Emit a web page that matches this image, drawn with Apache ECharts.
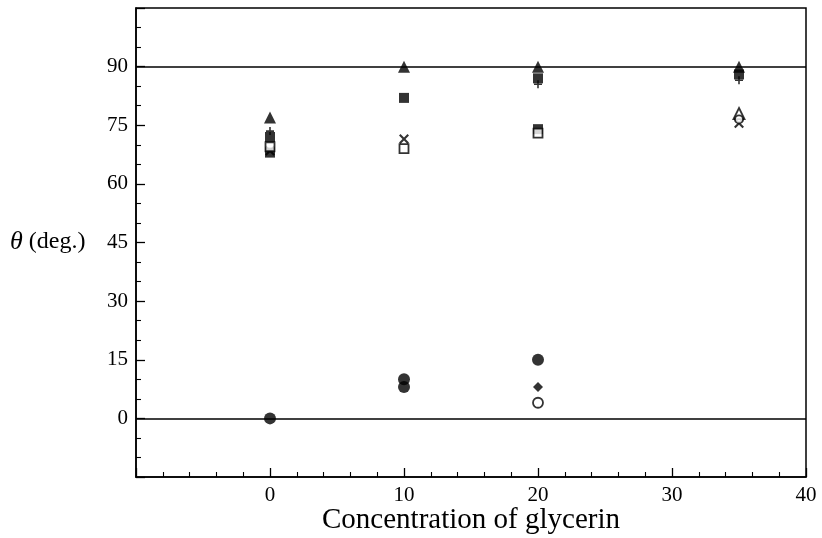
<!DOCTYPE html>
<html>
<head>
<meta charset="utf-8">
<script src="https://cdn.jsdelivr.net/npm/echarts@6/dist/echarts.min.js"></script>
<style>html,body{margin:0;padding:0;background:#fff}#c{width:822px;height:538px}</style>
</head>
<body>
<div id="c"></div>
<script>
// x = concentration of glycerin, y = theta (deg.)
const xTickLabels = ['0', '10', '20', '30', '40'];
const yTickLabels = ['0', '15', '30', '45', '60', '75', '90'];
const filledTriangle = [[0, 77], [10, 90], [20, 90], [35, 90]];
const filledSquare = [[0, 72], [10, 82], [20, 87], [35, 88]];
const plusMarks = [[0, 73.5], [20, 85.5], [35, 86.5]];
const filledSquare2 = [[0, 68], [20, 74]];
const openSquare = [[0, 69.5], [10, 69], [20, 73]];
const crossMarks = [[0, 68.5], [10, 71.5], [35, 75.5]];
const openTriangle = [[35, 78]];
const openCircle2 = [[35, 76.5]];
const filledCircle = [[0, 0], [10, 10], [10, 8], [20, 15]];
const filledDiamond = [[20, 8]];
const openCircle = [[20, 4]];
const refLines = [0, 90];
const xAxisTitle = 'Concentration of glycerin';

const font = '"Liberation Serif", "DejaVu Serif", serif';
const crossPath = 'path://M0,1.5 L1.5,0 L5,3.5 L8.5,0 L10,1.5 L6.5,5 L10,8.5 L8.5,10 L5,6.5 L1.5,10 L0,8.5 L3.5,5 Z';
const plusPath = 'path://M4,0 H6 V4 H10 V6 H6 V10 H4 V6 H0 V4 H4 Z';

function sc(name, data, symbol, size, open, z) {
  return {
    name, type: 'scatter', data, symbol, symbolSize: size, z: z || 3,
    itemStyle: open ? { color: '#fff', borderColor: '#000', borderWidth: 1.8 } : { color: '#000' },
    emphasis: { disabled: true }
  };
}

const chart = echarts.init(document.getElementById('c'));
chart.setOption({
  animation: false,
  backgroundColor: '#fff',
  grid: { left: 136, right: 16, top: 8, bottom: 61, containLabel: false, outerBoundsMode: 'none',
    show: true, borderColor: '#000', borderWidth: 1.5, backgroundColor: 'transparent' },
  xAxis: {
    type: 'value', min: -10, max: 40, interval: 10,
    axisLine: { show: true, onZero: false, lineStyle: { color: '#000', width: 1.5 } },
    axisTick: { show: true, inside: true, length: 9, lineStyle: { color: '#000', width: 1.3 } },
    minorTick: { show: true, splitNumber: 5, length: 5, lineStyle: { color: '#000', width: 1.1 } },
    splitLine: { show: false },
    axisLabel: {
      color: '#000', fontFamily: font, fontSize: 21, margin: 8,
      formatter: v => { const s = String(Math.round(v)); return xTickLabels.includes(s) ? s : ''; }
    }
  },
  yAxis: {
    type: 'value', min: -15, max: 105, interval: 15,
    axisLine: { show: true, onZero: false, lineStyle: { color: '#000', width: 1.5 } },
    axisTick: { show: true, inside: true, length: 9, lineStyle: { color: '#000', width: 1.3 } },
    minorTick: { show: true, splitNumber: 3, length: 5, lineStyle: { color: '#000', width: 1.1 } },
    splitLine: { show: false },
    axisLabel: {
      color: '#000', fontFamily: font, fontSize: 21, margin: 8,
      formatter: v => { const s = String(Math.round(v)); return yTickLabels.includes(s) ? s : ''; }
    }
  },
  graphic: [{
    type: 'text', left: 10, top: 229,
    style: {
      text: '{i|θ} (deg.)',
      rich: { i: { fontStyle: 'italic', fontFamily: font, fontSize: 26, fill: '#000' } },
      font: '24px "Liberation Serif", serif', fill: '#000'
    }
  }, {
    type: 'text', x: 471, y: 520,
    style: {
      text: xAxisTitle, align: 'center', verticalAlign: 'middle',
      font: '29px "Liberation Serif", serif', fill: '#000'
    }
  }],
  series: [
    {
      type: 'line', data: [], silent: true,
      markLine: {
        silent: true, symbol: 'none', label: { show: false },
        lineStyle: { color: '#000', width: 1.6, type: 'solid' },
        data: refLines.map(v => ({ yAxis: v }))
      }
    },
    sc('filledTriangle', filledTriangle, 'triangle', 12, false),
    sc('filledSquare', filledSquare, 'rect', 10, false),
    sc('plus', plusMarks, plusPath, 8, false),
    sc('filledSquare2', filledSquare2, 'rect', 10, false),
    sc('openSquare', openSquare, 'rect', 9, true, 4),
    sc('cross', crossMarks, crossPath, 10, false),
    sc('openTriangle', openTriangle, 'triangle', 11, true),
    sc('openCircle2', openCircle2, 'circle', 8, true),
    sc('filledCircle', filledCircle, 'circle', 12, false),
    sc('filledDiamond', filledDiamond, 'diamond', 10, false),
    sc('openCircle', openCircle, 'circle', 10, true)
  ]
});
</script>
</body>
</html>
